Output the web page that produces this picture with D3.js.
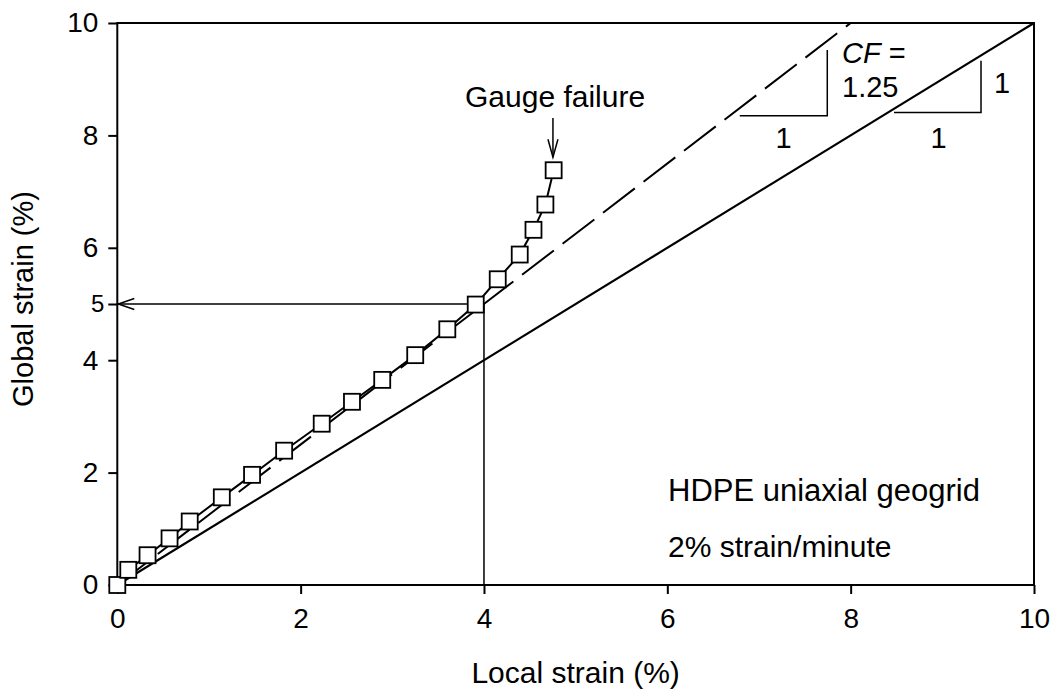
<!DOCTYPE html>
<html>
<head>
<meta charset="utf-8">
<script src="https://cdn.jsdelivr.net/npm/d3@7"></script>
<style>
  html, body { margin: 0; padding: 0; background: #fff; }
  svg { display: block; }
  text { font-family: "Liberation Sans", Arial, sans-serif; fill: #000; }
</style>
</head>
<body>
<script>
// ---- data ----
const localStrain  = [0, 0.12, 0.33, 0.57, 0.79, 1.14, 1.47, 1.82, 2.23, 2.56, 2.89, 3.25, 3.60, 3.91, 4.15, 4.39, 4.54, 4.67, 4.76];
const globalStrain = [0, 0.27, 0.53, 0.83, 1.13, 1.56, 1.96, 2.39, 2.87, 3.26, 3.65, 4.09, 4.55, 4.99, 5.44, 5.88, 6.32, 6.77, 7.38];
const xTicks = [0, 2, 4, 6, 8, 10];
const yTicks = [0, 2, 4, 5, 6, 8, 10];
const oneToOne = [[0, 0], [10, 10]];
const cfLine = [[0, 0], [8, 10]];          // CF = 1.25
const cfTriangle = [[6.79, 8.35], [7.745, 8.35], [7.745, 9.52]];
const unitTriangle = [[8.473, 8.408], [9.422, 8.408], [9.422, 9.328]];
const readLine = [[0, 5], [4, 5], [4, 0]];  // local 4 -> global 5

const W = 1055, H = 692;
const svg = d3.select("body").append("svg").attr("width", W).attr("height", H);

const x = d3.scaleLinear().domain([0, 10]).range([117.3, 1034]);
const y = d3.scaleLinear().domain([0, 10]).range([585, 23]);

const FS = 29;

// frame
svg.append("rect")
  .attr("x", x(0)).attr("y", y(10))
  .attr("width", x(10) - x(0)).attr("height", y(0) - y(10))
  .attr("fill", "none").attr("stroke", "#000").attr("stroke-width", 2);

// axes
const gx = svg.append("g").attr("transform", `translate(0,${y(0)})`)
  .call(d3.axisBottom(x).tickValues(xTicks).tickFormat(d3.format("d")).tickSize(9).tickPadding(14).tickSizeOuter(0));
const gy = svg.append("g").attr("transform", `translate(${x(0)},0)`)
  .call(d3.axisLeft(y).tickValues(yTicks).tickFormat(d3.format("d")).tickSize(9).tickPadding(10).tickSizeOuter(0));
[gx, gy].forEach(g => {
  g.select(".domain").remove();
  g.selectAll(".tick line").attr("stroke", "#000").attr("stroke-width", 2);
  g.selectAll(".tick text").attr("font-size", FS - 1).attr("fill", "#000")
    .style("font-family", '"Liberation Sans", Arial, sans-serif');
});
gy.selectAll(".tick text").filter(d => d === 5).attr("font-size", FS - 5).attr("dx", 6);

// axis titles
svg.append("text").attr("x", (x(0) + x(10)) / 2).attr("y", 683)
  .attr("text-anchor", "middle").attr("font-size", FS + 1).text("Local strain (%)");
svg.append("text").attr("transform", `translate(33,299) rotate(-90)`)
  .attr("text-anchor", "middle").attr("font-size", FS).text("Global strain (%)");

const line = d3.line().x(d => x(d[0])).y(d => y(d[1]));

// reference lines
svg.append("path").attr("d", line(oneToOne))
  .attr("fill", "none").attr("stroke", "#000").attr("stroke-width", 2.2);
svg.append("path").attr("d", line(cfLine))
  .attr("fill", "none").attr("stroke", "#000").attr("stroke-width", 2).attr("stroke-dasharray", "40,11");

// slope triangles
[cfTriangle, unitTriangle].forEach(t => {
  svg.append("path").attr("d", line(t))
    .attr("fill", "none").attr("stroke", "#000").attr("stroke-width", 1.5);
});

// read-off line with arrow to y axis
svg.append("path").attr("d", line(readLine))
  .attr("fill", "none").attr("stroke", "#000").attr("stroke-width", 1.5);
svg.append("path")
  .attr("d", `M${x(0) + 17},${y(5) - 5.5} L${x(0) + 1},${y(5)} L${x(0) + 17},${y(5) + 5.5}`)
  .attr("fill", "none").attr("stroke", "#000").attr("stroke-width", 1.5);

// data line + squares
const pts = localStrain.map((v, i) => [v, globalStrain[i]]);
svg.append("path").attr("d", line(pts))
  .attr("fill", "none").attr("stroke", "#000").attr("stroke-width", 2);
const S = 16;
svg.selectAll("rect.pt").data(pts).enter().append("rect").attr("class", "pt")
  .attr("x", d => x(d[0]) - S / 2).attr("y", d => y(d[1]) - S / 2)
  .attr("width", S).attr("height", S)
  .attr("fill", "#fff").attr("stroke", "#000").attr("stroke-width", 1.8);

// gauge failure annotation
const last = pts[pts.length - 1];
svg.append("text").attr("x", 465).attr("y", 107).attr("font-size", FS + 1).text("Gauge failure");
const ax = x(last[0]) - 0.7, tipY = y(last[1]) - 13;
svg.append("path").attr("d", `M${ax},118 L${ax},${tipY}`)
  .attr("stroke", "#000").attr("stroke-width", 1.5);
svg.append("path").attr("d", `M${ax - 5},${tipY - 18} L${ax},${tipY} L${ax + 5},${tipY - 18}`)
  .attr("fill", "none").attr("stroke", "#000").attr("stroke-width", 1.5);

// slope labels
const cf = svg.append("text").attr("x", 842).attr("y", 63).attr("font-size", FS);
cf.append("tspan").attr("font-style", "italic").text("CF");
cf.append("tspan").text(" =");
svg.append("text").attr("x", 842).attr("y", 97).attr("font-size", FS).text("1.25");
svg.append("text").attr("x", 783.5).attr("y", 148).attr("text-anchor", "middle").attr("font-size", FS).text("1");
svg.append("text").attr("x", 938.5).attr("y", 148).attr("text-anchor", "middle").attr("font-size", FS).text("1");
svg.append("text").attr("x", 1002).attr("y", 93).attr("text-anchor", "middle").attr("font-size", FS).text("1");

// material notes
svg.append("text").attr("x", 668).attr("y", 501).attr("font-size", FS + 2).text("HDPE uniaxial geogrid");
svg.append("text").attr("x", 668).attr("y", 557).attr("font-size", FS + 1).text("2% strain/minute");
</script>
</body>
</html>
